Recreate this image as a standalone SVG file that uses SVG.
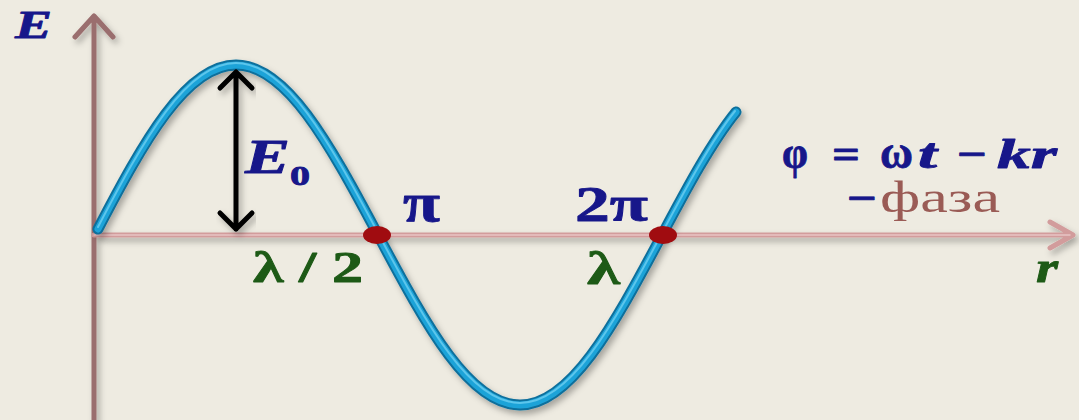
<svg xmlns="http://www.w3.org/2000/svg" width="1079" height="420" viewBox="0 0 1079 420">
<defs>
<filter id="sh" x="-10%" y="-10%" width="120%" height="120%">
<feDropShadow dx="3" dy="4" stdDeviation="3" flood-color="#000" flood-opacity="0.3"/>
</filter>
<style>
.ax{fill:none;stroke-linecap:round;stroke-linejoin:round}
.t{font-family:'Liberation Serif',serif;font-weight:bold;stroke-width:0.8;stroke-linejoin:round}
.nv{fill:#17178A;stroke:#17178A}
.gr{fill:#1D5A16;stroke:#1D5A16}
.it{font-style:italic}
</style>
</defs>
<rect width="1079" height="420" fill="#EEEBE1"/>
<g id="axes" filter="url(#sh)">
<path class="ax" d="M94 420 V16 M75 37 L94 16 L113 37" stroke="#9A6E6E" stroke-width="5"/>
<path class="ax" d="M94 235 H1073 M1050 222 L1073 235 L1050 248" stroke="#D29C9C" stroke-width="5"/>
<path class="ax" d="M94 235 H1070" stroke="#E8C4C4" stroke-width="1.5"/>
</g>
<g id="wave" filter="url(#sh)">
<path class="ax" d="M98 229 C143.9 141.1 186.1 65 236 65 C285.9 65 328.1 141.1 378 235 C427.9 328.9 470.1 405 520 405 C569.9 405 612.1 328.9 662 235 C686.7 188.6 711.3 142.6 736 112" stroke="#0E6F9C" stroke-width="11"/>
<path class="ax" d="M98 229 C143.9 141.1 186.1 65 236 65 C285.9 65 328.1 141.1 378 235 C427.9 328.9 470.1 405 520 405 C569.9 405 612.1 328.9 662 235 C686.7 188.6 711.3 142.6 736 112" stroke="#1FA3D8" stroke-width="7"/>
<path class="ax" d="M98 227 C143.9 139.1 186.1 63 236 63 C285.9 63 328.1 139.1 378 233 C427.9 326.9 470.1 403 520 403 C569.9 403 612.1 326.9 662 233 C686.7 186.6 711.3 140.6 735 111" stroke="#5CC6EC" stroke-width="2"/>
</g>
<g id="amplitude" filter="url(#sh)">
<path class="ax" d="M236 72 V229 M220 88 L236 72 L252 88 M220 213 L236 229 L252 213" stroke="#000" stroke-width="5"/>
</g>
<g id="points">
<ellipse cx="377" cy="235" rx="14" ry="9" fill="#A00C10"/>
<ellipse cx="663" cy="235" rx="14" ry="9" fill="#A00C10"/>
</g>
<g id="labels" font-family="Liberation Serif, serif">
<text class="t it nv" x="15" y="38" font-size="40" textLength="37" lengthAdjust="spacingAndGlyphs">E</text>
<text class="t it nv" x="245" y="173" font-size="48" textLength="45" lengthAdjust="spacingAndGlyphs">E</text>
<text class="t nv" x="290" y="185" font-size="28" textLength="20" lengthAdjust="spacingAndGlyphs">0</text>
<text class="t nv" x="403" y="221" font-size="54" textLength="37" lengthAdjust="spacingAndGlyphs">π</text>
<text class="t nv" x="575" y="221" font-size="50" textLength="73" lengthAdjust="spacingAndGlyphs">2π</text>
<text class="t gr" x="253" y="282" font-size="44" textLength="110" lengthAdjust="spacingAndGlyphs">λ / 2</text>
<text class="t gr" x="587" y="284" font-size="46" textLength="33" lengthAdjust="spacingAndGlyphs">λ</text>
<text class="t nv" x="782" y="168" font-size="46" textLength="26" lengthAdjust="spacingAndGlyphs">φ</text>
<text class="t nv" x="832" y="168" font-size="42" textLength="28" lengthAdjust="spacingAndGlyphs">=</text>
<text class="t nv" x="880" y="168" font-size="46" textLength="33" lengthAdjust="spacingAndGlyphs">ω</text>
<text class="t it nv" x="918" y="168" font-size="42" textLength="19" lengthAdjust="spacingAndGlyphs">t</text>
<text class="t nv" x="957" y="168" font-size="42" textLength="30" lengthAdjust="spacingAndGlyphs">−</text>
<text class="t it nv" x="997" y="168" font-size="42" textLength="60" lengthAdjust="spacingAndGlyphs">kr</text>
<text class="t nv" x="847" y="212" font-size="42" textLength="30" lengthAdjust="spacingAndGlyphs">−</text>
<text x="880" y="212" font-size="44" fill="#9A5B55" textLength="120" lengthAdjust="spacingAndGlyphs">фаза</text>
<text class="t it gr" x="1036" y="282" font-size="44" textLength="22" lengthAdjust="spacingAndGlyphs">r</text>
</g>
</svg>
